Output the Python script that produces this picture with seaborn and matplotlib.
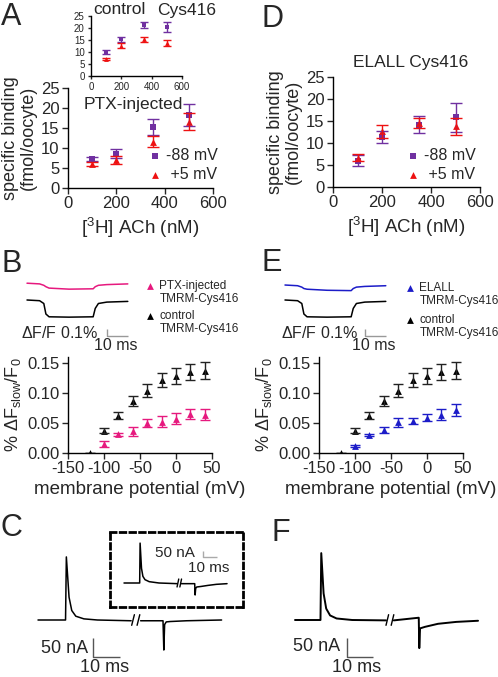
import numpy as np
import matplotlib.pyplot as plt
import seaborn as sns

# ---------------- DATA ----------------
conc = [100, 200, 350, 500]  # [3H] ACh (nM)

# A inset: control Cys416
ctl_m88 = [10.1, 15.3, 21.2, 20.5]
ctl_m88_err = [0.8, 1.0, 1.2, 2.0]
ctl_p5 = [6.9, 12.6, 15.3, 13.9]
ctl_p5_err = [0.4, 1.0, 1.1, 1.3]

# A main: PTX-injected
ptx_m88 = [7.2, 8.6, 15.2, 18.2]
ptx_m88_err = [0.5, 1.1, 2.0, 2.8]
ptx_p5 = [6.0, 7.0, 11.6, 16.6]
ptx_p5_err = [0.5, 1.0, 1.3, 2.2]

# D: ELALL Cys416
elall_m88 = [6.0, 11.4, 14.2, 15.9]
elall_m88_err = [1.2, 1.4, 1.9, 3.3]
elall_p5 = [6.6, 12.7, 14.5, 13.8]
elall_p5_err = [0.8, 1.5, 1.2, 1.9]

# B / E: % dF_slow/F0 vs membrane potential
volt_ctl = [-120, -100, -80, -60, -40, -20, 0, 20, 40]
dF_ctl = [0.000, 0.037, 0.062, 0.087, 0.104, 0.122, 0.128, 0.135, 0.137]
dF_ctl_err = [0.0, 0.004, 0.006, 0.008, 0.011, 0.012, 0.013, 0.014, 0.014]
volt_mut = [-100, -80, -60, -40, -20, 0, 20, 40]
dF_ptx = [0.015, 0.031, 0.036, 0.050, 0.052, 0.057, 0.065, 0.064]
dF_ptx_err = [0.005, 0.002, 0.008, 0.007, 0.009, 0.009, 0.009, 0.009]
dF_elall = [0.012, 0.030, 0.039, 0.051, 0.053, 0.059, 0.064, 0.071]
dF_elall_err = [0.002, 0.002, 0.005, 0.007, 0.005, 0.006, 0.009, 0.010]

# B / E fluorescence traces: time (ms), dF/F (%)
fl_t = [0, 6, 8, 9, 10.5, 20, 31.5, 32.5, 34, 38, 48]
fl_ctl = [0.0, -0.01, -0.05, -0.2, -0.24, -0.245, -0.24, -0.12, -0.05, -0.03, -0.02]
fl_ptx = [0.0, -0.01, -0.03, -0.05, -0.07, -0.085, -0.08, -0.05, -0.03, -0.02, -0.01]
fl_elall = [0.0, -0.01, -0.03, -0.05, -0.06, -0.075, -0.08, -0.05, -0.03, -0.02, -0.01]

# C main current trace: time (ms), current (nA); two pieces around the axis break
c_t1 = [0, 10.2, 10.5, 11.5, 12.5, 14, 17, 22, 34.5]
c_i1 = [0, 0, 166, 60, 25, 10, 3, 0, -2]
c_t2 = [38, 46.3, 46.6, 46.9, 47.5, 49, 55, 68]
c_i2 = [-2, -2, -79, -12, -5, -4, -2, 0]

# C inset trace
ci_t1 = [0, 11.2, 11.5, 12.5, 13.5, 15, 18, 25, 38]
ci_i1 = [0, 0, 300, 110, 50, 25, 10, 0, -5]
ci_t2 = [41, 50.5, 50.8, 51.2, 52, 55, 60, 66, 73.6]
ci_i2 = [-5, -5, -90, -40, -30, -26, -18, -10, -5]

# F current trace
f_t1 = [0, 9.8, 10.1, 11, 12, 13.5, 16, 22, 35]
f_i1 = [0, 0, 176, 70, 30, 12, 4, 0, -1]
f_t2 = [38, 47.6, 47.8, 48.1, 48.6, 50, 55, 62, 70.4]
f_i2 = [-1, 6, -74, -22, -21, -18, -10, -5, -2]

# ---------------- STYLE ----------------
W, H = 498, 677
PURPLE = '#7030A0'
RED = '#EE1111'
PINK = '#E6197E'
BLUE = '#1C1CC8'
BAR = '#999999'

sns.set_style('ticks')
plt.rcParams['font.family'] = ['Liberation Sans', 'DejaVu Sans']
plt.rcParams['mathtext.fontset'] = 'custom'
plt.rcParams['mathtext.rm'] = 'Liberation Sans'
plt.rcParams['mathtext.it'] = 'Liberation Sans:italic'
plt.rcParams['axes.linewidth'] = 1.0
plt.rcParams['axes.edgecolor'] = 'black'
plt.rcParams['axes.unicode_minus'] = False

fig = plt.figure(figsize=(W / 100, H / 100), dpi=100)


def box(x0, y0, x1, y1):
    # axes placed by pixel edges of the canvas
    return fig.add_axes([x0 / W, 1 - y1 / H, (x1 - x0) / W, (y1 - y0) / H])


def fx(x):
    return x / W


def fy(y):
    return 1 - y / H


def style(ax, size=12, length=4):
    sns.despine(ax=ax)
    ax.tick_params(labelsize=size, length=length, width=1, pad=2, direction='out')


def binding(ax, y1, e1, y2, e2, s1=14, s2=24, cap=4):
    ax.errorbar(conc, y1, yerr=e1, fmt='none', ecolor=PURPLE, elinewidth=1, capsize=cap)
    ax.errorbar(conc, y2, yerr=e2, fmt='none', ecolor=RED, elinewidth=1, capsize=cap)
    sns.scatterplot(x=conc, y=y1, marker='s', color=PURPLE, s=s1, linewidth=0, ax=ax, label='-88 mV')
    sns.scatterplot(x=conc, y=y2, marker='^', color=RED, s=s2, linewidth=0, ax=ax, label=' +5 mV')
    if ax.get_legend():
        ax.get_legend().remove()
    ax.set_xlim(0, 600)
    ax.set_ylim(0, 25)
    ax.set_xticks([0, 200, 400, 600])
    ax.set_yticks([0, 5, 10, 15, 20, 25])


def fluor(ax, y_mut, e_mut, col):
    ax.errorbar(volt_ctl, dF_ctl, yerr=dF_ctl_err, fmt='none', ecolor='#222222', elinewidth=1, capsize=3.5)
    ax.errorbar(volt_mut, y_mut, yerr=e_mut, fmt='none', ecolor=col, elinewidth=1, capsize=3.5)
    sns.scatterplot(x=volt_ctl, y=dF_ctl, marker='^', color='black', s=24, linewidth=0, ax=ax, label='ctl')
    sns.scatterplot(x=volt_mut, y=y_mut, marker='^', color=col, s=24, linewidth=0, ax=ax, label='mut')
    if ax.get_legend():
        ax.get_legend().remove()
    ax.set_xlim(-150, 50)
    ax.set_ylim(0, 0.16)
    ax.set_xticks([-150, -100, -50, 0, 50])
    ax.set_yticks([0, 0.05, 0.10, 0.15])
    ax.set_yticklabels(['0.00', '0.05', '0.10', '0.15'])
    ax.set_xlabel('membrane potential (mV)', fontsize=13.5, labelpad=3)
    ax.set_ylabel('% $\\Delta$F$_{\\mathrm{slow}}$/F$_0$', fontsize=13, labelpad=3)
    style(ax)
    h, _ = ax.get_legend_handles_labels()
    return h


def two_line_entry(handle, l1, l2, x, y):
    blank = plt.Line2D([], [], linestyle='none')
    fig.legend([handle, blank], [l1, l2], loc='upper left', bbox_to_anchor=(fx(x), fy(y)),
               frameon=False, fontsize=8.5, handletextpad=0.3, labelspacing=0.05, borderpad=0,
               borderaxespad=0, handlelength=1.0)


def trace_axes(x0, y0, x1, y1, px_t, px_v, t0_px, v0_px):
    ax = box(x0, y0, x1, y1)
    ax.set_xlim((x0 - t0_px) / px_t, (x1 - t0_px) / px_t)
    ax.set_ylim((v0_px - y1) / px_v, (v0_px - y0) / px_v)
    ax.axis('off')
    return ax


def line(ax, t, v, col='black', lw=1.1):
    sns.lineplot(x=t, y=v, estimator=None, sort=False, color=col, lw=lw, ax=ax)


def scalebar(ax, t, v, dt, dv, col=BAR):
    ax.plot([t, t, t + dt], [v + dv, v, v], color=col, lw=1, solid_capstyle='butt')


def breakmark(ax, t, half_t, half_v):
    for dt in (-1.0, 1.0):
        ax.plot([t + dt - half_t, t + dt + half_t], [-half_v, half_v], color='black', lw=1)


# ---------------- A ----------------
axa = box(68, 88, 213, 188)
binding(axa, ptx_m88, ptx_m88_err, ptx_p5, ptx_p5_err)
style(axa)
axa.set_xlabel('[$^3$H] ACh (nM)', fontsize=13.5, labelpad=3)
axa.set_ylabel('specific binding\n(fmol/oocyte)', fontsize=13, labelpad=3, linespacing=1.1)
axa.text(0.45, 0.84, 'PTX-injected', transform=axa.transAxes, ha='center', va='center', fontsize=12.5)
axa.legend(*axa.get_legend_handles_labels(), loc='upper left', bbox_to_anchor=(fx(147), fy(148)),
           bbox_transform=fig.transFigure, frameon=False, fontsize=11.5, handletextpad=0.2,
           labelspacing=0.25, borderpad=0, borderaxespad=0, handlelength=1.0)

axi = box(91, 16, 182, 76)
binding(axi, ctl_m88, ctl_m88_err, ctl_p5, ctl_p5_err, s1=8, s2=12, cap=3)
style(axi, size=7, length=2.5)
fig.text(fx(93), fy(10), 'control', ha='left', va='center', fontsize=12.5)
fig.text(fx(157), fy(10), 'Cys416', ha='left', va='center', fontsize=12.5)

# ---------------- D ----------------
axd = box(333, 77, 480, 187)
binding(axd, elall_m88, elall_m88_err, elall_p5, elall_p5_err)
style(axd)
axd.set_xlabel('[$^3$H] ACh (nM)', fontsize=13.5, labelpad=3)
axd.set_ylabel('specific binding\n(fmol/oocyte)', fontsize=13, labelpad=3, linespacing=1.1)
fig.text(fx(411), fy(62), 'ELALL Cys416', ha='center', va='center', fontsize=12.5)
axd.legend(*axd.get_legend_handles_labels(), loc='upper left', bbox_to_anchor=(fx(405), fy(148)),
           bbox_transform=fig.transFigure, frameon=False, fontsize=11.5, handletextpad=0.2,
           labelspacing=0.25, borderpad=0, borderaxespad=0, handlelength=1.0)

# ---------------- B ----------------
axb = box(68, 357, 212, 453)
h = fluor(axb, dF_ptx, dF_ptx_err, PINK)
two_line_entry(h[1], 'PTX-injected', 'TMRM-Cys416', 144, 280)
two_line_entry(h[0], 'control', 'TMRM-Cys416', 144, 310)

tb = trace_axes(20, 272, 140, 340, 2.1, 70, 27, 300)
line(tb, fl_t, fl_ctl, 'black')
line(tb, fl_t, np.array(fl_ptx) + 0.24, PINK)
scalebar(tb, 38.1, -0.514, 10, 0.1)
tb.text(33.8, -0.47, '$\\Delta$F/F 0.1%', ha='right', va='center', fontsize=11.5)
tb.text(42.4, -0.643, '10 ms', ha='center', va='center', fontsize=11.5)

# ---------------- E ----------------
axe = box(319, 357, 463, 453)
h = fluor(axe, dF_elall, dF_elall_err, BLUE)
two_line_entry(h[1], 'ELALL', 'TMRM-Cys416', 404, 282)
two_line_entry(h[0], 'control', 'TMRM-Cys416', 404, 314)

te = trace_axes(271, 272, 391, 340, 2.1, 70, 285, 300)
line(te, fl_t, fl_ctl, 'black')
line(te, fl_t, np.array(fl_elall) + 0.214, BLUE)
scalebar(te, 38.1, -0.514, 10, 0.1)
te.text(34.7, -0.47, '$\\Delta$F/F 0.1%', ha='right', va='center', fontsize=11.5)
te.text(42.4, -0.643, '10 ms', ha='center', va='center', fontsize=11.5)

# ---------------- C ----------------
tc = trace_axes(30, 540, 250, 677, 2.7, 0.38, 38, 620)
line(tc, c_t1, c_i1)
line(tc, c_t2, c_i2)
breakmark(tc, 36.2, 0.5, 14)
scalebar(tc, 20.4, -97, 10, 50, col='#555555')
tc.text(18.5, -76, '50 nA', ha='right', va='center', fontsize=13)
tc.text(24.8, -126, '10 ms', ha='center', va='center', fontsize=13)

tci = trace_axes(110, 532, 243, 607, 1.4, 0.133, 124, 583)
tci.axis('on')
tci.set_xticks([])
tci.set_yticks([])
for sp in tci.spines.values():
    sp.set_visible(True)
    sp.set_linestyle((0, (2, 1.5)))
    sp.set_linewidth(2)
line(tci, ci_t1, ci_i1)
line(tci, ci_t2, ci_i2)
breakmark(tci, 39.5, 0.6, 30)
scalebar(tci, 56.4, 193, 10, 50, col='#AAAAAA')
tci.text(50.7, 225, '50 nA', ha='right', va='center', fontsize=11)
tci.text(60.7, 113, '10 ms', ha='center', va='center', fontsize=11)

# ---------------- F ----------------
tf = trace_axes(285, 540, 490, 677, 2.6, 0.38, 295, 620)
line(tf, f_t1, f_i1, lw=1.4)
line(tf, f_t2, f_i2, lw=1.4)
breakmark(tf, 36.5, 0.5, 14)
scalebar(tf, 20, -97, 10, 50, col='#555555')
tf.text(17.3, -71, '50 nA', ha='right', va='center', fontsize=13)
tf.text(23.5, -124, '10 ms', ha='center', va='center', fontsize=13)

# ---------------- panel letters ----------------
for lab, x, y in [('A', 1, 17), ('D', 262, 19), ('B', 1, 264), ('E', 262, 263), ('C', 1, 528), ('F', 271, 533)]:
    fig.text(fx(x), fy(y), lab, ha='left', va='center', fontsize=22)

fig.savefig('out.png', dpi=100)
